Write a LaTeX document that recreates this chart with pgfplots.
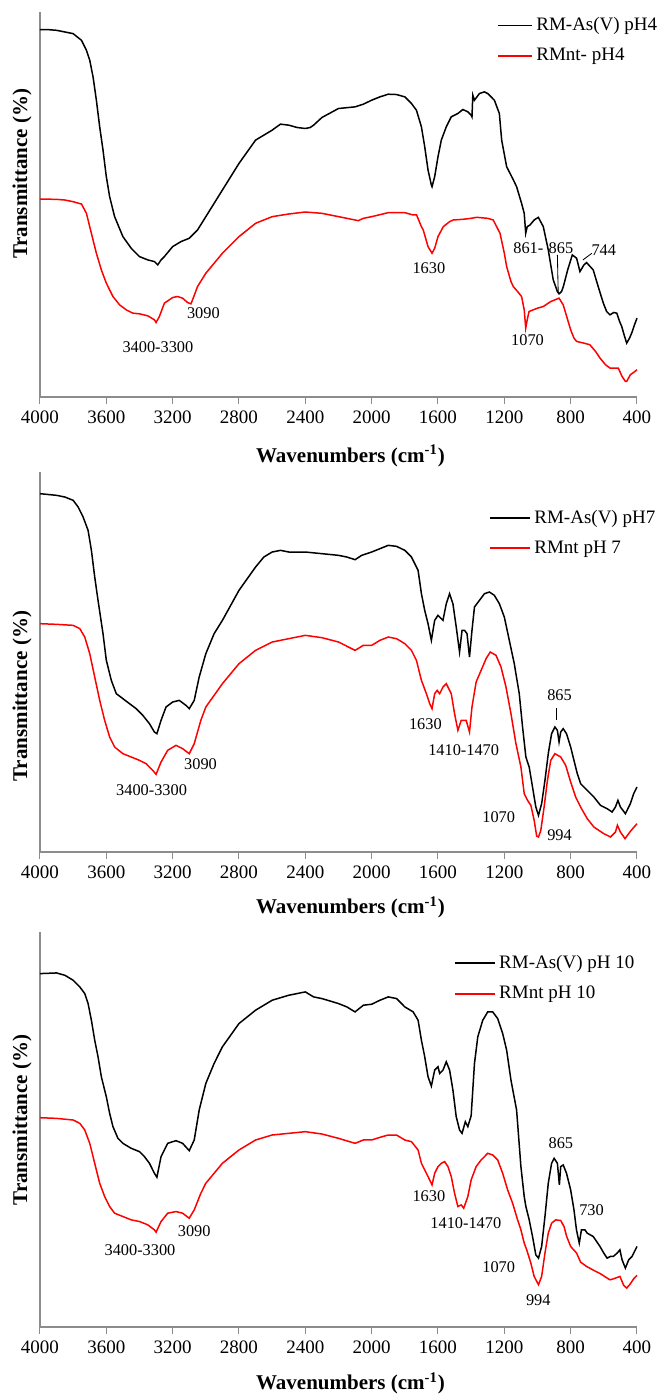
\documentclass[border=0pt]{standalone}
\usepackage{fontspec}
\setmainfont{Liberation Serif}
\usepackage{pgfplots}
\usepackage{pgfplotstable}
\pgfplotsset{compat=1.18}

\definecolor{axisgray}{RGB}{140,140,140}
\newcommand\tickfont{\fontsize{11.4}{13}\selectfont}
\newcommand\annfont{\fontsize{9.8}{11}\selectfont}
\newcommand\labfont{\fontsize{12.6}{14}\selectfont\bfseries}

% panel 1 (pH 4)
\pgfplotstableread{
wn y
4000 1104
3950 1104
3900 1102
3850 1097
3800 1092
3750 1072
3720 1042
3700 1012
3680 962
3660 892
3640 812
3620 742
3600 662
3580 602
3550 542
3500 482
3450 447
3400 422
3350 412
3310 407
3290 397
3270 412
3250 422
3200 452
3150 467
3100 477
3050 502
3000 542
2900 622
2800 702
2700 772
2600 802
2550 820
2500 817
2450 810
2400 807
2370 810
2350 817
2300 840
2200 867
2100 872
2050 880
2000 892
1950 902
1900 910
1850 909
1800 902
1760 882
1730 862
1700 812
1680 752
1660 682
1640 637
1636 632
1620 662
1600 722
1580 772
1550 812
1520 842
1480 852
1450 864
1420 857
1400 847
1395 842
1390 907
1380 892
1350 912
1320 917
1300 912
1260 892
1230 852
1216 772
1186 692
1150 657
1126 632
1096 582
1080 552
1071 492
1062 512
1045 517
1020 532
995 540
965 512
935 442
905 352
880 317
870 310
855 317
844 332
818 382
790 427
764 417
744 377
720 397
704 404
664 382
634 332
603 282
583 257
563 247
540 254
522 252
505 227
492 212
475 182
462 162
445 177
432 192
415 217
400 237
}\blackA
\pgfplotstableread{
wn y
4000 595
3900 594
3850 592
3800 587
3780 584
3750 580
3720 552
3690 492
3660 432
3630 382
3600 342
3560 302
3520 277
3480 262
3440 252
3400 250
3350 244
3310 232
3300 224
3280 242
3250 282
3200 299
3170 302
3140 297
3110 284
3090 280
3080 292
3050 332
3000 372
2900 432
2800 482
2700 522
2600 542
2500 550
2400 556
2300 552
2200 542
2100 532
2080 530
2050 537
2000 542
1900 554
1800 554
1750 547
1729 547
1700 512
1689 502
1660 452
1636 432
1620 447
1600 482
1568 512
1530 527
1508 532
1450 534
1400 537
1367 540
1300 537
1267 532
1226 492
1200 432
1186 392
1160 347
1146 332
1120 317
1096 302
1080 262
1071 207
1062 232
1051 257
1000 267
965 272
920 287
870 297
845 277
824 242
800 202
780 177
764 167
720 162
684 157
650 137
623 117
590 97
563 87
540 87
513 87
490 62
470 47
462 47
440 67
420 74
400 82
}\redA
% panel 2 (pH 7)
\pgfplotstableread{
wn y
4000 1075
3900 1070
3850 1065
3800 1055
3770 1035
3740 1005
3710 965
3690 905
3670 825
3650 755
3620 655
3600 575
3570 515
3540 475
3500 460
3460 445
3420 430
3380 410
3340 385
3310 360
3295 355
3270 395
3240 435
3200 450
3160 455
3120 440
3100 430
3070 455
3040 525
3000 595
2950 655
2900 695
2800 785
2700 855
2650 885
2600 900
2550 905
2500 900
2400 900
2300 895
2200 890
2150 885
2100 877
2060 890
2000 900
1950 910
1900 920
1850 917
1800 905
1760 885
1720 845
1700 775
1680 725
1660 685
1640 635
1620 695
1600 710
1590 705
1570 695
1550 745
1530 775
1510 745
1490 675
1470 600
1455 665
1440 665
1425 655
1410 585
1395 665
1380 735
1350 755
1320 775
1290 780
1260 770
1230 745
1200 705
1170 635
1140 565
1110 475
1090 375
1070 285
1050 255
1030 195
1010 135
994 110
975 145
955 215
935 295
915 355
895 375
880 365
870 330
860 360
845 370
825 355
800 315
780 275
760 235
740 205
700 185
660 165
620 140
580 130
550 120
530 135
515 155
500 135
470 115
440 145
420 175
400 195
}\blackB
\pgfplotstableread{
wn y
4000 685
3900 683
3800 680
3760 670
3730 645
3700 595
3670 525
3640 455
3610 395
3580 345
3550 315
3500 295
3450 285
3400 275
3360 265
3320 245
3300 233
3270 270
3230 305
3180 320
3140 310
3100 295
3070 325
3030 395
3000 435
2900 505
2800 565
2700 605
2600 630
2500 640
2400 650
2300 643
2200 630
2100 605
2050 620
2000 620
1950 635
1900 645
1850 640
1800 625
1760 605
1730 575
1700 515
1670 475
1650 445
1636 430
1620 475
1605 485
1590 475
1570 495
1550 505
1520 475
1500 415
1480 365
1460 395
1430 395
1410 360
1395 435
1370 510
1340 545
1310 580
1285 600
1250 590
1220 555
1190 495
1160 415
1130 325
1100 255
1080 175
1060 155
1040 140
1020 95
1005 48
994 45
980 65
960 135
940 215
920 275
895 295
860 285
830 260
800 210
770 165
740 135
700 100
660 75
600 55
560 45
530 60
518 80
500 60
472 40
440 62
400 85
}\redB
% panel 3 (pH 10)
\pgfplotstableread{
wn y
4000 1062
3900 1064
3850 1057
3800 1042
3760 1022
3730 1002
3710 972
3690 922
3670 862
3650 812
3630 752
3600 692
3580 642
3560 602
3530 567
3500 552
3450 537
3400 527
3370 512
3340 492
3310 462
3295 450
3270 512
3230 552
3180 560
3140 552
3100 530
3070 562
3040 652
3000 732
2950 792
2900 842
2800 912
2700 952
2600 982
2500 997
2400 1007
2350 992
2300 987
2200 972
2150 962
2100 947
2050 967
2000 970
1950 982
1900 992
1850 987
1800 962
1750 947
1720 922
1700 862
1680 812
1660 752
1640 724
1620 772
1600 782
1590 762
1570 772
1550 797
1530 772
1510 712
1490 632
1470 592
1455 582
1435 617
1420 602
1400 635
1380 792
1360 872
1330 922
1300 947
1270 947
1240 927
1210 882
1186 832
1160 742
1126 652
1100 482
1080 392
1070 362
1050 322
1030 272
1010 217
994 207
975 242
955 332
935 432
915 492
900 507
880 492
868 427
860 482
845 487
825 462
800 412
780 352
765 292
748 252
735 292
714 292
700 282
664 272
623 242
600 222
580 207
560 212
543 212
520 222
503 232
490 202
470 177
450 202
430 212
400 242
}\blackC
\pgfplotstableread{
wn y
4000 629
3900 627
3800 622
3760 612
3730 592
3700 552
3670 492
3640 432
3610 392
3580 362
3550 342
3500 332
3450 322
3400 317
3350 307
3310 292
3300 285
3270 317
3230 342
3180 347
3140 342
3100 327
3070 352
3030 402
3000 432
2900 492
2800 532
2700 562
2600 577
2500 582
2400 587
2300 580
2200 567
2100 552
2050 562
2000 562
1950 570
1900 577
1850 577
1800 562
1760 557
1720 532
1700 492
1680 472
1660 452
1636 427
1620 462
1600 482
1580 492
1560 497
1540 482
1520 452
1500 402
1480 362
1460 367
1445 357
1420 392
1400 442
1370 482
1340 502
1300 522
1270 517
1240 502
1210 462
1180 412
1150 372
1120 322
1100 292
1080 252
1065 232
1040 192
1020 152
994 127
975 152
955 222
935 282
915 312
890 322
860 320
840 302
824 272
800 242
764 222
740 195
704 182
660 170
620 160
580 147
563 142
540 145
503 152
480 125
462 117
440 130
420 145
400 155
}\redC

\pgfplotsset{
  ftir/.style={
    scale only axis,
    width=358.2pt,
    x dir=reverse,
    xmin=400, xmax=4000,
    ymin=0,
    axis x line=bottom,
    axis y line=left,
    axis line style={-, axisgray, line width=0.7pt},
    xtick={400,800,...,4000},
    ytick=\empty,
    tick align=outside,
    major tick length=4pt,
    x tick style={axisgray, line width=0.6pt},
    xticklabel style={font=\tickfont, yshift=-1pt},
    /pgf/number format/assume math mode=true,
    /pgf/number format/1000 sep={},
    xlabel={Wavenumbers (cm\textsuperscript{-1})},
    ylabel={Transmittance (\%)},
    legend cell align=left,
    legend style={draw=none, fill=none, font=\tickfont, inner sep=0pt,
      row sep=5pt, nodes={inner sep=2pt}},
    clip=false,
  },
  xlab/.style={every axis x label/.style={at={(axis description cs:0.52,#1)}, anchor=center, font=\labfont}},
  ylab/.style={every axis y label/.style={at={(axis description cs:-0.03,#1)}, rotate=90, anchor=center, font=\labfont}},
  blk/.style={black, line width=0.9pt},
  rd/.style={red, line width=0.9pt},
}

\begin{document}
\begin{tikzpicture}
\path[use as bounding box] (0,0) rectangle (400.2pt,-836.4pt);

% ---------- pH 4 ----------
\begin{axis}[ftir,
  at={(24pt,-238.2pt)}, anchor=south west,
  height=231pt, ymax=1157,
  xlab=-0.153, ylab=0.58,
  legend style={at={(axis description cs:0.765,0.995)}, anchor=north west},
  legend image code/.code={\draw[#1, line width=1.1pt] (0pt,0pt) -- (20.5pt,0pt);},
]
\addplot[blk] table[x=wn, y=y] {\blackA};
\addplot[rd] table[x=wn, y=y] {\redA};
\legend{RM-As(V) pH4, RMnt- pH4}
\node[font=\annfont] at (axis cs:3289,149) {3400-3300};
\node[font=\annfont] at (axis cs:3015,252) {3090};
\node[font=\annfont] at (axis cs:1655,387) {1630};
\node[font=\annfont] at (axis cs:965,447) {861-\,\,865};
\node[font=\annfont] at (axis cs:600,442) {744};
\node[font=\annfont] at (axis cs:1060,172) {1070};
\draw[black, line width=0.5pt] (axis cs:880,427) -- (axis cs:875,312);
\draw[black, line width=0.5pt] (axis cs:726,412) -- (axis cs:672,432);
\end{axis}

% ---------- pH 7 ----------
\begin{axis}[ftir,
  at={(24pt,-511.2pt)}, anchor=south west,
  height=228pt, ymax=1140,
  xlab=-0.145, ylab=0.41,
  legend style={at={(axis description cs:0.752,0.91)}, anchor=north west},
  legend image code/.code={\draw[#1, line width=1.1pt] (0pt,0pt) -- (24pt,0pt);},
]
\addplot[blk] table[x=wn, y=y] {\blackB};
\addplot[rd] table[x=wn, y=y] {\redB};
\legend{RM-As(V) pH7, RMnt  pH 7}
\node[font=\annfont] at (axis cs:3327,185) {3400-3300};
\node[font=\annfont] at (axis cs:3032,265) {3090};
\node[font=\annfont] at (axis cs:1676,385) {1630};
\node[font=\annfont] at (axis cs:1445,305) {1410-1470};
\node[font=\annfont] at (axis cs:1234,105) {1070};
\node[font=\annfont] at (axis cs:867,50) {994};
\node[font=\annfont] at (axis cs:867,470) {865};
\draw[black, line width=0.5pt] (axis cs:885,432) -- (axis cs:885,395);
\end{axis}

% ---------- pH 10 ----------
\begin{axis}[ftir,
  at={(24pt,-796.2pt)}, anchor=south west,
  height=237pt, ymax=1187,
  xlab=-0.142, ylab=0.524,
  legend style={at={(axis description cs:0.693,0.95)}, anchor=north west},
  legend image code/.code={\draw[#1, line width=1.1pt] (0pt,0pt) -- (24pt,0pt);},
]
\addplot[blk] table[x=wn, y=y] {\blackC};
\addplot[rd] table[x=wn, y=y] {\redC};
\legend{RM-As(V) pH 10, RMnt pH 10}
\node[font=\annfont] at (axis cs:3397,232) {3400-3300};
\node[font=\annfont] at (axis cs:3070,287) {3090};
\node[font=\annfont] at (axis cs:1655,392) {1630};
\node[font=\annfont] at (axis cs:1432,312) {1410-1470};
\node[font=\annfont] at (axis cs:1234,180) {1070};
\node[font=\annfont] at (axis cs:995,80) {994};
\node[font=\annfont] at (axis cs:859,552) {865};
\node[font=\annfont] at (axis cs:674,352) {730};
\end{axis}
\end{tikzpicture}
\end{document}
